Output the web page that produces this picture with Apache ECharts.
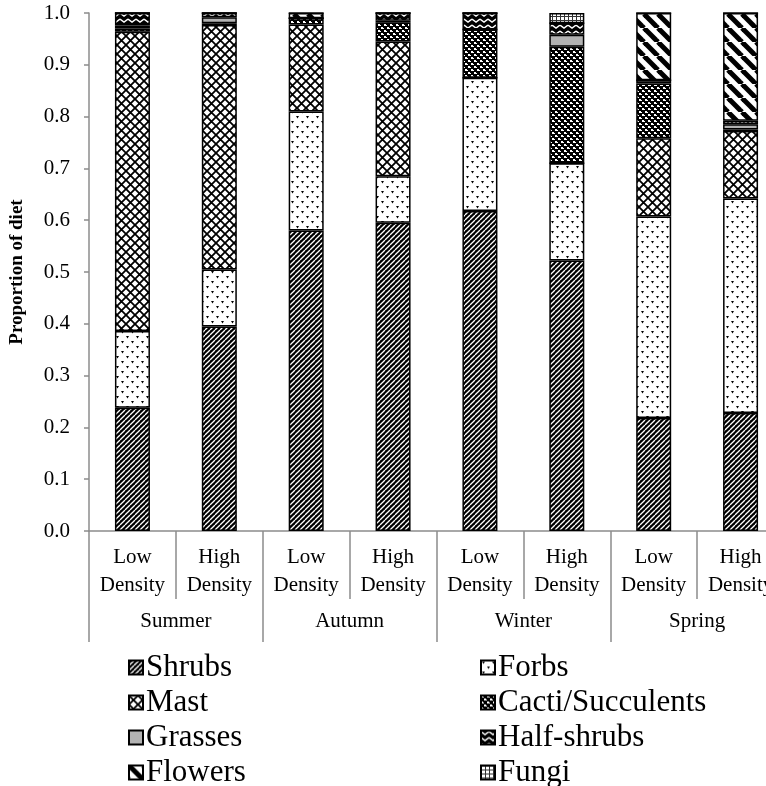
<!DOCTYPE html>
<html>
<head>
<meta charset="utf-8">
<script src="https://cdn.jsdelivr.net/npm/echarts@6/dist/echarts.min.js"></script>
<style>html,body{margin:0;padding:0;background:#fff;overflow:hidden}#c{width:784px;height:800px}</style>
</head>
<body>
<div id="c"></div>
<script>
const categories = ['Low\nDensity','High\nDensity','Low\nDensity','High\nDensity','Low\nDensity','High\nDensity','Low\nDensity','High\nDensity'];
const seasons = ['Summer','Autumn','Winter','Spring'];
const yTicks = [0,0.1,0.2,0.3,0.4,0.5,0.6,0.7,0.8,0.9,1.0];
// order: SumLow, SumHigh, AutLow, AutHigh, WinLow, WinHigh, SprLow, SprHigh
const shrubs      = [0.238, 0.395, 0.580, 0.595, 0.618, 0.522, 0.218, 0.228];
const forbs       = [0.148, 0.110, 0.230, 0.090, 0.257, 0.188, 0.389, 0.414];
const mast        = [0.578, 0.472, 0.168, 0.260, 0.000, 0.000, 0.151, 0.130];
const cacti       = [0.006, 0.003, 0.012, 0.037, 0.093, 0.225, 0.106, 0.003];
const grasses     = [0.006, 0.012, 0.000, 0.003, 0.000, 0.023, 0.006, 0.010];
const halfShrubs  = [0.024, 0.008, 0.000, 0.015, 0.032, 0.022, 0.000, 0.007];
const flowers     = [0.000, 0.000, 0.010, 0.000, 0.000, 0.000, 0.130, 0.208];
const fungi       = [0.000, 0.000, 0.000, 0.000, 0.000, 0.020, 0.000, 0.000];

function tile(w, h, draw) {
  const c = document.createElement('canvas');
  c.width = w; c.height = h;
  const g = c.getContext('2d');
  draw(g, w, h);
  return { image: c, repeat: 'repeat' };
}
const pShrubs = tile(5, 5, (g, s) => {
  g.fillStyle = '#000'; g.fillRect(0, 0, s, s);
  g.strokeStyle = '#fff'; g.lineWidth = 1.3;
  for (let k = -1; k <= 1; k++) { g.beginPath(); g.moveTo(k * s, s); g.lineTo(k * s + s, 0); g.stroke(); }
});
const pForbs = tile(10, 10, (g, s) => {
  g.fillStyle = '#fff'; g.fillRect(0, 0, s, s);
  g.fillStyle = '#000';
  const tri = (x, y) => { g.beginPath(); g.moveTo(x, y); g.lineTo(x + 3, y); g.lineTo(x + 1.5, y + 2.5); g.closePath(); g.fill(); };
  tri(1, 1); tri(6, 6);
});
const pMast = tile(9, 9, (g, s) => {
  g.fillStyle = '#fff'; g.fillRect(0, 0, s, s);
  g.strokeStyle = '#000'; g.lineWidth = 1.8;
  g.beginPath(); g.moveTo(0, 0); g.lineTo(s, s); g.moveTo(s, 0); g.lineTo(0, s); g.stroke();
});
const pCacti = tile(6, 6, (g, s) => {
  g.fillStyle = '#000'; g.fillRect(0, 0, s, s);
  g.fillStyle = '#fff';
  g.fillRect(0, 0, 2, 2); g.fillRect(2, 1, 1, 1);
  g.fillRect(3, 3, 2, 2); g.fillRect(5, 4, 1, 1);
});
const pGrasses = '#b3b3b3';
const pHalf = tile(8, 6, (g, w, h) => {
  g.fillStyle = '#000'; g.fillRect(0, 0, w, h);
  g.strokeStyle = '#fff'; g.lineWidth = 1.4;
  g.beginPath(); g.moveTo(0, 1); g.lineTo(4, 4); g.lineTo(8, 1); g.stroke();
});
const pFlowers = tile(14, 14, (g, s) => {
  g.fillStyle = '#fff'; g.fillRect(0, 0, s, s);
  g.strokeStyle = '#000'; g.lineWidth = 5;
  for (let k = -1; k <= 1; k++) { g.beginPath(); g.moveTo(k * s, 0); g.lineTo(k * s + s, s); g.stroke(); }
});
const pFungi = tile(4, 4, (g, s) => {
  g.fillStyle = '#fff'; g.fillRect(0, 0, s, s);
  g.fillStyle = '#333'; g.fillRect(0, 0, 4, 1); g.fillRect(0, 0, 1, 4);
});

const FONT = "'Liberation Serif','Times New Roman',serif";
const defs = [
  ['Shrubs', shrubs, pShrubs],
  ['Forbs', forbs, pForbs],
  ['Mast', mast, pMast],
  ['Cacti/Succulents', cacti, pCacti],
  ['Grasses', grasses, pGrasses],
  ['Half-shrubs', halfShrubs, pHalf],
  ['Flowers', flowers, pFlowers],
  ['Fungi', fungi, pFungi]
];
const series = defs.map(([name, data, color]) => ({
  name, type: 'bar', stack: 'diet', data, barWidth: 35,
  xAxisIndex: 0,
  itemStyle: { color, borderColor: '#000', borderWidth: 1.5 },
  emphasis: { disabled: true }
}));

const legendText = { fontFamily: FONT, fontSize: 31, color: '#000', lineHeight: 35, padding: [0, 0, 0, -2] };
const legendCommon = { orient: 'vertical', top: 650, itemWidth: 14, itemHeight: 14, itemGap: 0,
  textStyle: legendText, icon: 'rect', selectedMode: false, padding: 0 };
const chart = echarts.init(document.getElementById('c'), null, { renderer: 'canvas' });
chart.setOption({
  animation: false,
  backgroundColor: '#fff',
  grid: { left: 88, right: 0, top: 13, bottom: 269, containLabel: false },
  legend: [
    Object.assign({ data: ['Shrubs', 'Mast', 'Grasses', 'Flowers'], left: 128 }, legendCommon),
    Object.assign({ data: ['Forbs', 'Cacti/Succulents', 'Half-shrubs', 'Fungi'], left: 480 }, legendCommon)
  ],
  xAxis: [
    { type: 'category', data: categories, position: 'bottom',
      axisLine: { lineStyle: { color: '#8c8c8c', width: 1.5 } },
      axisTick: { show: true, length: 68, interval: 0, alignWithLabel: false, lineStyle: { color: '#8c8c8c', width: 1.5 } },
      axisLabel: { interval: 0, fontFamily: FONT, fontSize: 21, color: '#000', lineHeight: 28, margin: 12 } },
    { type: 'category', data: seasons, position: 'bottom', offset: 0,
      axisLine: { show: false },
      axisTick: { show: true, length: 111, interval: 0, alignWithLabel: false, lineStyle: { color: '#8c8c8c', width: 1.5 } },
      axisLabel: { interval: 0, fontFamily: FONT, fontSize: 21, color: '#000', margin: 80 } }
  ],
  yAxis: {
    type: 'value', min: 0, max: 1, interval: 0.1,
    name: 'Proportion of diet', nameLocation: 'middle', nameGap: 62,
    nameTextStyle: { fontFamily: FONT, fontSize: 19, fontWeight: 'bold', color: '#000' },
    axisLine: { show: true, lineStyle: { color: '#8c8c8c', width: 1.5 } },
    axisTick: { show: true, length: 5, lineStyle: { color: '#8c8c8c', width: 1.5 } },
    axisLabel: { fontFamily: FONT, fontSize: 21, color: '#000', margin: 19,
      formatter: v => yTicks.includes(Math.round(v * 10) / 10) ? v.toFixed(1) : '' },
    splitLine: { show: false }
  },
  series
});
</script>
</body>
</html>
